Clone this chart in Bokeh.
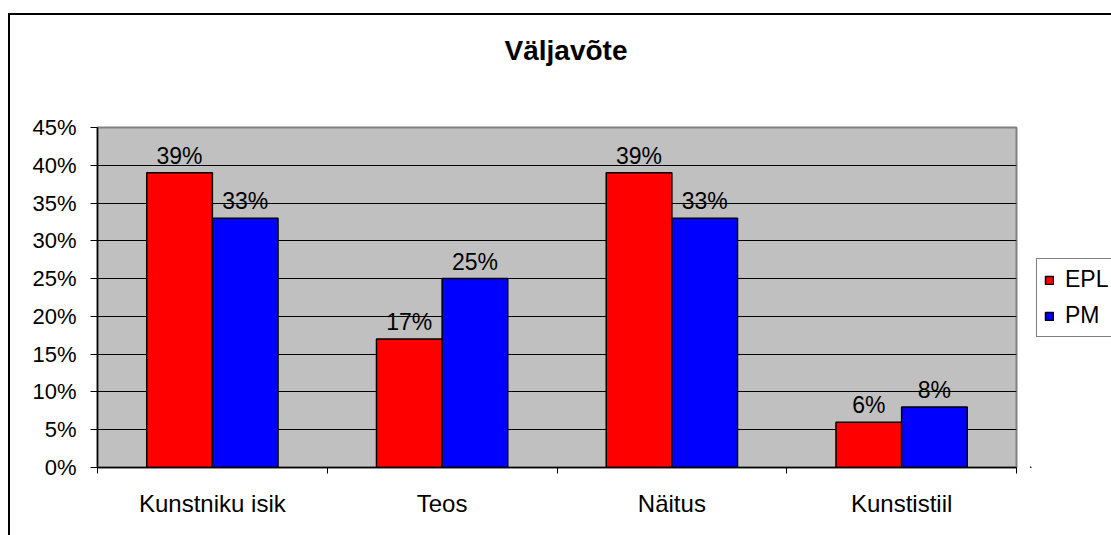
from bokeh.plotting import figure
from bokeh.layouts import row
from bokeh.models import (Range1d, FixedTicker, PrintfTickFormatter, Legend, LegendItem, Title)
from bokeh.core.properties import value
from bokeh.embed import file_html
from bokeh.resources import INLINE
import numpy as np

# ---- data ----
categories = ["Kunstniku isik", "Teos", "Näitus", "Kunstistiil"]
series_names = ["EPL", "PM"]
series_colors = ["#FF0000", "#0000FF"]
epl_values = [39, 17, 39, 6]
pm_values = [33, 25, 33, 8]
y_ticks = [0, 5, 10, 15, 20, 25, 30, 35, 40, 45]
title_text = "Väljavõte"

FONT = "Liberation Sans"
H = 535
W_MAIN, W_LEG = 1030, 81
n = len(categories)

p = figure(width=W_MAIN, height=H, output_backend="svg", toolbar_location=None,
           x_range=Range1d(0, n), y_range=Range1d(y_ticks[0], y_ticks[-1]),
           min_border_left=97, min_border_right=14, min_border_top=127,
           min_border_bottom=68)

p.background_fill_color = "#C0C0C0"
p.border_fill_alpha = 0
p.outline_line_color = "#808080"
p.outline_line_width = 2

# title: a blank spacer next to the frame, the real title outside it
spacer = Title(text=" ", text_font=FONT, text_font_size="28px",
               text_font_style="bold", standoff=22)
p.add_layout(spacer, "above")
title = Title(text=title_text, align="left", offset=407, vertical_align="top",
              standoff=10, text_font=FONT, text_font_size="28px",
              text_font_style="bold", text_color="black")
p.add_layout(title, "above")

bw = 0.2857
centers = np.arange(n) + 0.5
x_epl = centers - bw / 2
x_pm = centers + bw / 2
r1 = p.vbar(x=x_epl, top=epl_values, width=bw, fill_color=series_colors[0],
            line_color="black", line_width=1.5)
r2 = p.vbar(x=x_pm, top=pm_values, width=bw, fill_color=series_colors[1],
            line_color="black", line_width=1.5)

for xs, vals in ((x_epl, epl_values), (x_pm, pm_values)):
    p.text(x=xs, y=vals, text=[f"{v}%" for v in vals], text_align="center",
           text_baseline="alphabetic", y_offset=-17, text_font=value(FONT),
           text_font_size="23px", text_color="black")

# axes
xa = p.xaxis[0]
xa.ticker = FixedTicker(ticks=list(centers), minor_ticks=list(range(n + 1)))
xa.major_label_overrides = {float(c): cat for c, cat in zip(centers, categories)}
xa.major_tick_out = 0
xa.major_tick_in = 0
xa.minor_tick_out = 6
xa.minor_tick_in = 0
xa.minor_tick_line_color = "black"
xa.axis_line_color = "black"
xa.axis_line_width = 1.5
xa.major_label_standoff = 16
xa.major_label_text_font = FONT
xa.major_label_text_font_size = "24px"
xa.major_label_text_color = "black"

ya = p.yaxis[0]
ya.ticker = FixedTicker(ticks=y_ticks, minor_ticks=[])
ya.formatter = PrintfTickFormatter(format="%d%%")
ya.major_tick_out = 7
ya.major_tick_in = 0
ya.minor_tick_out = 0
ya.minor_tick_in = 0
ya.major_tick_line_color = "black"
ya.axis_line_color = "black"
ya.axis_line_width = 1.5
ya.major_label_standoff = 14
ya.major_label_text_font = FONT
ya.major_label_text_font_size = "22px"
ya.major_label_text_color = "black"

p.xgrid.visible = False
p.ygrid.ticker = FixedTicker(ticks=y_ticks, minor_ticks=[])
p.ygrid.grid_line_color = "black"
p.ygrid.grid_line_width = 1

# legend panel (a slim figure to the right of the chart); its series renderers
# lie far outside its visible range, they only feed the legend swatches
pl = figure(width=W_LEG, height=H, output_backend="svg", toolbar_location=None,
            x_range=Range1d(100, 101), y_range=Range1d(100, 101),
            x_axis_type=None, y_axis_type=None,
            min_border_left=0, min_border_right=0, min_border_top=0, min_border_bottom=0)
pl.background_fill_alpha = 0
pl.border_fill_alpha = 0
pl.outline_line_color = None
pl.grid.visible = False
l1 = pl.vbar(x=x_epl, top=epl_values, width=bw, fill_color=series_colors[0],
             line_color="black", line_width=1.5)
l2 = pl.vbar(x=x_pm, top=pm_values, width=bw, fill_color=series_colors[1],
             line_color="black", line_width=1.5)
legend = Legend(items=[LegendItem(label=series_names[0], renderers=[l1]),
                       LegendItem(label=series_names[1], renderers=[l2])],
                location=(6, 130), orientation="vertical",
                border_line_color="black", border_line_width=1,
                background_fill_color="white", background_fill_alpha=1,
                label_text_font=FONT, label_text_font_size="23px",
                label_text_color="black",
                glyph_width=10, glyph_height=10, label_standoff=11,
                padding=7, spacing=9, label_height=24, label_width=50, margin=0)
pl.add_layout(legend)

layout = row(p, pl, spacing=0)
# outer chart frame (left and top edges), drawn behind the transparent canvases
layout.styles = {
    "background": "linear-gradient(#000,#000) 8px 13px / 2px 100% no-repeat, "
                  "linear-gradient(#000,#000) 8px 13px / 100% 2px no-repeat, white"
}

open("out.html", "w").write(file_html(layout, INLINE))
